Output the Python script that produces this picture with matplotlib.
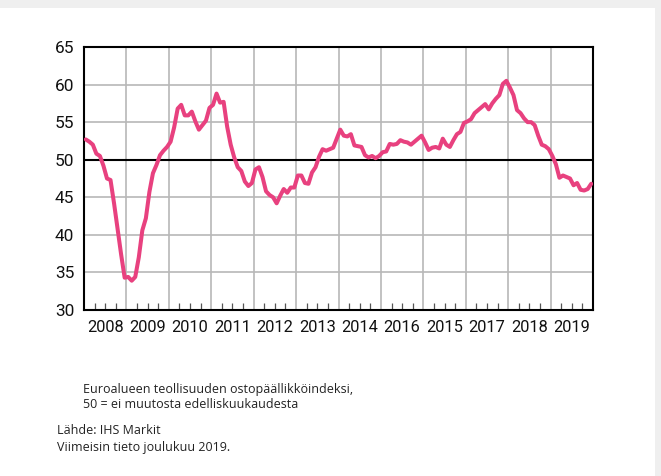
import matplotlib
matplotlib.use("Agg")
import matplotlib.pyplot as plt
import numpy as np

years = list(range(2008, 2020))
year_labels = ["2008", "2009", "2010", "2011", "2012", "2013", "2014",
               "2016", "2015", "2017", "2018", "2019"]

pmi_2008 = [52.7, 52.4, 52.0, 50.8, 50.5, 49.2, 47.5, 47.3, 44.2, 40.8, 37.4, 34.3]
pmi_2009 = [34.4, 33.9, 34.4, 37.0, 40.6, 42.2, 45.7, 48.2, 49.3, 50.6, 51.2, 51.7]
pmi_2010 = [52.4, 54.3, 56.8, 57.3, 55.9, 55.9, 56.4, 55.1, 54.0, 54.6, 55.2, 56.9]
pmi_2011 = [57.3, 58.8, 57.6, 57.7, 54.4, 52.0, 50.3, 49.0, 48.5, 47.1, 46.5, 46.9]
pmi_2012 = [48.7, 49.0, 47.7, 45.8, 45.3, 45.0, 44.2, 45.2, 46.1, 45.6, 46.3, 46.3]
pmi_2013 = [47.9, 47.9, 46.9, 46.8, 48.3, 49.0, 50.4, 51.4, 51.2, 51.4, 51.6, 52.8]
pmi_2014 = [54.0, 53.2, 53.1, 53.4, 51.9, 51.8, 51.7, 50.6, 50.3, 50.5, 50.2, 50.5]
pmi_2015 = [51.0, 51.1, 52.1, 52.0, 52.1, 52.6, 52.4, 52.3, 52.0, 52.4, 52.8, 53.2]
pmi_2016 = [52.3, 51.3, 51.6, 51.7, 51.5, 52.8, 52.0, 51.7, 52.6, 53.4, 53.7, 54.9]
pmi_2017 = [55.1, 55.4, 56.2, 56.6, 57.0, 57.4, 56.7, 57.5, 58.1, 58.6, 60.1, 60.5]
pmi_2018 = [59.6, 58.6, 56.6, 56.2, 55.5, 55.0, 55.0, 54.6, 53.2, 52.0, 51.8, 51.4]
pmi_2019 = [50.5, 49.4, 47.6, 47.9, 47.7, 47.5, 46.6, 46.9, 46.0, 45.9, 46.1, 46.8]

series = (pmi_2008 + pmi_2009 + pmi_2010 + pmi_2011 + pmi_2012 + pmi_2013 +
          pmi_2014 + pmi_2015 + pmi_2016 + pmi_2017 + pmi_2018 + pmi_2019)
n = len(series)
x = 2008 + (np.arange(n) + 0.5) / 12.0

y_ticks = [30, 35, 40, 45, 50, 55, 60, 65]

fig = plt.figure(figsize=(6.61, 4.76), dpi=100)
fig.patch.set_facecolor("white")

fig.patches.append(plt.Rectangle((0, 1 - 8 / 476), 1, 8 / 476, transform=fig.transFigure,
                                 facecolor="#efefef", edgecolor="none", zorder=0))
fig.patches.append(plt.Rectangle((1 - 6 / 661, 0), 6 / 661, 1, transform=fig.transFigure,
                                 facecolor="#efefef", edgecolor="none", zorder=0))

ax = fig.add_axes([84 / 661, 1 - 310 / 476, (593 - 84) / 661, (310 - 47) / 476])

xfont = dict(family=["Roboto", "DejaVu Sans"], size=11.8, color="#111111")
yfont = dict(family=["Roboto", "DejaVu Sans"], size=12.4, color="#111111")

ax.set_xlim(2008, 2020)
ax.set_ylim(30, 65)

ax.set_xticks(years[1:] + [2020])
ax.set_xticklabels([])
ax.tick_params(axis="x", which="major", length=0)

minor_pos = []
minor_lab = []
for yr, lab in zip(years, year_labels):
    for q, l in ((0.25, ""), (0.5, lab), (0.75, "")):
        minor_pos.append(yr + q)
        minor_lab.append(l)
ax.set_xticks(minor_pos, minor=True)
ax.set_xticklabels(minor_lab, minor=True, fontdict=xfont)
ax.tick_params(axis="x", which="minor", direction="in", length=5, width=0.9,
               color="#555555", pad=7)

ax.set_yticks(y_ticks)
ax.set_yticklabels([str(v) for v in y_ticks], fontdict=yfont)
ax.tick_params(axis="y", length=0, pad=7)

ax.grid(True, which="major", color="#b8b8b8", linewidth=1.2)
ax.set_axisbelow(True)
ax.axhline(50, color="black", linewidth=1.5, zorder=2)

for s in ax.spines.values():
    s.set_linewidth(1.5)
    s.set_color("black")

ax.plot(x, series, color="#E8417F", linewidth=2.9, solid_joinstyle="round",
        solid_capstyle="round", zorder=3)

txt = dict(family=["Open Sans", "Roboto", "DejaVu Sans"], size=9.0, color="#222222", va="center")
fig.text(83 / 661, 1 - 389 / 476, "Euroalueen teollisuuden ostopäällikköindeksi,", **txt)
fig.text(83 / 661, 1 - 405 / 476, "50 = ei muutosta edelliskuukaudesta", **txt)
fig.text(57 / 661, 1 - 431 / 476, "Lähde: IHS Markit", **txt)
fig.text(57 / 661, 1 - 447 / 476, "Viimeisin tieto joulukuu 2019.", **txt)

fig.savefig("out.png", dpi=100, facecolor="white")
